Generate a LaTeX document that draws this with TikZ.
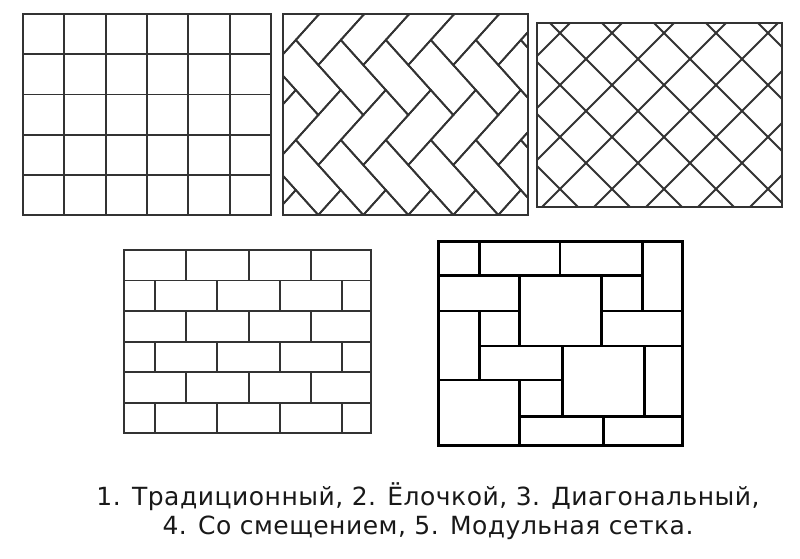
\documentclass[tikz,border=0pt]{standalone}
\usepackage{fontspec}
\setmainfont{DejaVu Sans}[LetterSpace=2]
\tikzset{
  tile/.style={line width=1.8pt, draw=black!80},
  module/.style={line width=2.6pt, draw=black},
  caption/.style={font=\fontsize{25}{30}\selectfont, text=black!90, anchor=base, inner sep=0pt},
}
\begin{document}
\begin{tikzpicture}[x=1pt,y=-1pt]
	\useasboundingbox (0,0) rectangle (800,558);
	% 1: traditional grid
	\foreach \i in {1,...,5} \draw[tile] ({23+\i*41.33},14) -- ({23+\i*41.33},215);
	\foreach \j in {1,...,4} \draw[tile] (23,{14+\j*40.2}) -- (271,{14+\j*40.2});
	\draw[tile] (23,14) rectangle (271,215);
	% 2: herringbone
	\begin{scope}
		\clip (283,14) rectangle (528,215);
		\begin{scope}[shift={(318.3,115)}, x={(-22.5pt,25pt)}, y={(22.5pt,25pt)}]
			\foreach \m in {-7,...,3} \foreach \n in {-2,...,2} {
				\draw[tile] ({\m+2*\n},{-\m+2*\n}) -- ++(2,0) -- ++(0,1) -- ++(-2,0) -- cycle;
				\draw[tile] ({1+\m+2*\n},{1-\m+2*\n}) -- ++(1,0) -- ++(0,2) -- ++(-1,0) -- cycle;
			}
		\end{scope}
	\end{scope}
	\draw[tile] (283,14) rectangle (528,215);
	% 3: diagonal
	\begin{scope}
		\clip (537,23) rectangle (782,207);
		\foreach \k in {-2,...,7} \draw[tile] ({645+52*\k},0) -- ({645+52*\k-300},300);
		\foreach \k in {-3,...,6} \draw[tile] ({475+52*\k},0) -- ({475+52*\k+300},300);
	\end{scope}
	\draw[tile] (537,23) rectangle (782,207);
	% 4: offset rows
	\foreach \j in {1,...,5} \draw[tile] (124,{250+\j*30.55}) -- (371,{250+\j*30.55});
	\foreach \j in {0,2,4} \foreach \k in {1,2,3} \draw[tile] ({124+62.3*\k},{250+\j*30.55}) -- ++(0,30.55);
	\foreach \j in {1,3,5} \foreach \k in {0,...,3} \draw[tile] ({155+62.3*\k},{250+\j*30.55}) -- ++(0,30.55);
	\draw[tile] (124,250) rectangle (371,433.3);
	% 5: modular
	\draw[module] (438.3,275.7) -- (642.3,275.7);
	\draw[module] (438.3,311) -- (519.3,311);
	\draw[module] (601.7,311) -- (682.3,311);
	\draw[module] (479.3,346) -- (682.3,346);
	\draw[module] (438.3,380) -- (562.7,380);
	\draw[module] (519.3,416.7) -- (682.3,416.7);
	\draw[module] (479.3,241.7) -- (479.3,275.7);
	\draw[module] (560,241.7) -- (560,275.7);
	\draw[module] (642.3,241.7) -- (642.3,311);
	\draw[module] (519.3,275.7) -- (519.3,346);
	\draw[module] (601.7,275.7) -- (601.7,346);
	\draw[module] (479.3,311) -- (479.3,380);
	\draw[module] (562.7,346) -- (562.7,416.7);
	\draw[module] (644.3,346) -- (644.3,416.7);
	\draw[module] (519.3,380) -- (519.3,445.7);
	\draw[module] (603.3,416.7) -- (603.3,445.7);
	\draw[module] (438.3,241.7) rectangle (682.3,445.7);
	% captions
	\node[caption] (caption1) at (428,505) {1. Традиционный, 2. Ёлочкой, 3. Диагональный,};
	\node[caption] (caption2) at (428,534.3) {4. Со смещением, 5. Модульная сетка.};
\end{tikzpicture}
\end{document}
